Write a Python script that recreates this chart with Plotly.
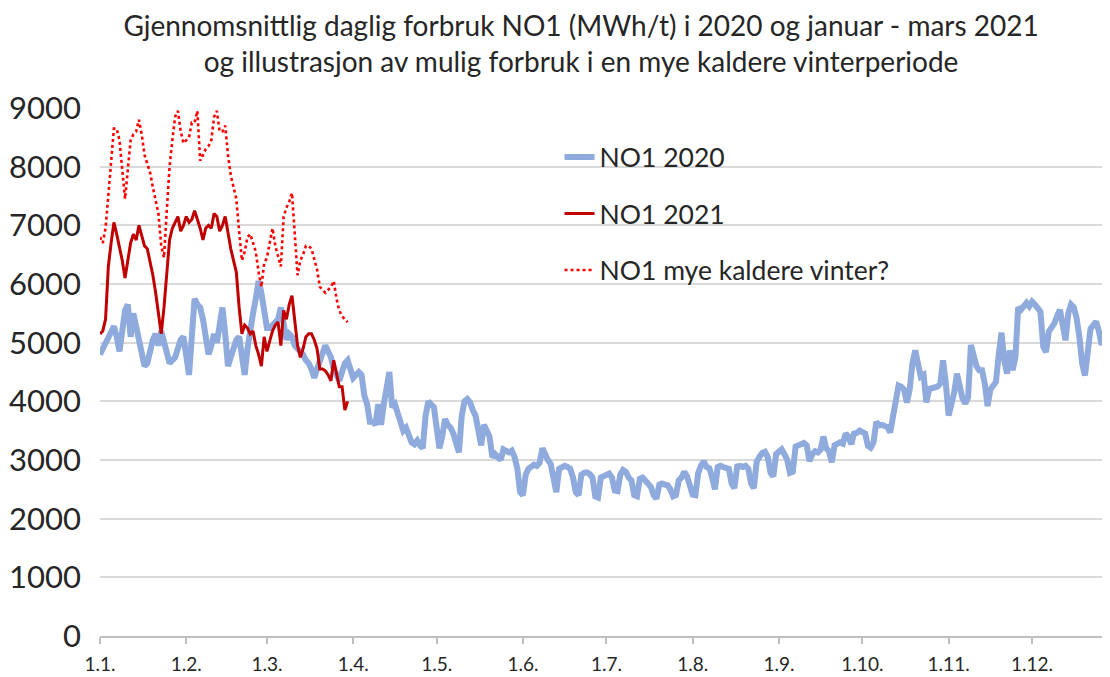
import plotly.graph_objects as go
import pandas as pd

# Daily average consumption NO1 2020 (MWh/h)
no1_2020 = [
    4800, 4900, 4950, 5050, 5150, 5280, 5100, 4850, 5200, 5550,
    5650, 5100, 5500, 5300, 5050, 4850, 4600, 4650, 4900, 5050,
    5150, 4950, 5200, 5000, 4800, 4650, 4700, 4750, 4900, 5050,
    5100, 4750, 4450, 5100, 5750, 5650, 5600, 5400, 5050, 4800,
    4950, 5150, 5000, 5300, 5600, 5150, 4600, 4750, 4950, 5050,
    5100, 4700, 4450, 4900, 5300, 5500, 5750, 6050, 5850, 5500,
    5250, 5250, 5300, 5350, 5400, 5600, 5350, 5050, 5150, 5100,
    4950, 4900, 4850, 4800, 4700, 4650, 4550, 4400, 4550, 4700,
    4850, 4950, 4850, 4750, 4550, 4450, 4350, 4500, 4650, 4700,
    4550, 4400, 4450, 4500, 4450, 4100, 3950, 3650, 3650, 3600,
    3950, 3600, 3950, 4200, 4500, 3900, 3950, 3800, 3600, 3500,
    3550, 3400, 3300, 3270, 3330, 3250, 3200, 3750, 4000, 3950,
    3900, 3550, 3200, 3400, 3700, 3600, 3550, 3450, 3300, 3130,
    3750, 4000, 4040, 3980, 3850, 3750, 3500, 3250, 3600, 3500,
    3400, 3050, 3100, 3050, 3000, 3180, 3150, 3130, 3160, 3050,
    2850, 2450, 2400, 2750, 2850, 2900, 2920, 2900, 2950, 3200,
    3080, 3000, 2930, 2700, 2450, 2850, 2880, 2900, 2880, 2850,
    2700, 2450, 2400, 2750, 2780, 2790, 2760, 2700, 2380, 2360,
    2700, 2730, 2760, 2770, 2700, 2480, 2470, 2750, 2830, 2800,
    2700, 2650, 2400, 2380, 2680, 2700, 2650, 2600, 2540, 2400,
    2340, 2580, 2600, 2580, 2570, 2500, 2380, 2400, 2650, 2700,
    2800, 2720, 2570, 2410, 2400, 2780, 2900, 2980, 2880, 2860,
    2700, 2500, 2880, 2900, 2880, 2870, 2850, 2600, 2520, 2890,
    2900, 2880, 2900, 2850, 2600, 2520, 2970, 3050, 3120, 3140,
    3050, 2780, 2720, 3100, 3140, 3180, 3100, 3000, 2780, 2800,
    3230, 3260, 3280, 3290, 3250, 2980, 3100, 3150, 3130, 3180,
    3400, 3200, 3150, 2960, 3250, 3290, 3300, 3280, 3450, 3400,
    3270, 3450, 3460, 3500, 3480, 3450, 3240, 3210, 3300, 3650,
    3590, 3600, 3580, 3560, 3470, 3700, 3950, 4270, 4250, 4200,
    3980, 4200, 4650, 4870, 4640, 4420, 4450, 3980, 4210, 4230,
    4240, 4250, 4300, 4700, 4300, 3760, 3950, 4150, 4470, 4240,
    4050, 3960, 4070, 4960, 4790, 4600, 4530, 4530, 4300, 3920,
    4200, 4270, 4330, 4790, 5170, 4700, 4470, 4870, 4530, 4750,
    5600, 5560, 5620, 5680, 5620, 5700, 5650, 5600, 5530, 4930,
    4840, 5190, 5250, 5330, 5450, 5560, 5300, 5040, 5500, 5650,
    5600, 5420, 5100, 4640, 4440, 4870, 5240, 5300, 5360, 5200,
    4960, 5150, 5390, 5300, 5000, 5350,
]

# NO1 January - March 2021
no1_2021 = [
    5150, 5200, 5400, 6300, 6700, 7050, 6850, 6650, 6400, 6100,
    6400, 6700, 6850, 6750, 7000, 6800, 6650, 6600, 6400, 6150,
    5850, 5500, 5150, 5600, 6200, 6750, 6950, 7050, 7150, 6900,
    7000, 7150, 7050, 7100, 7250, 7100, 6950, 6750, 6950, 7000,
    6950, 7200, 7150, 6900, 7000, 7150, 6850, 6600, 6400, 6200,
    5600, 5150, 5300, 5250, 5150, 5200, 4950, 4800, 4600, 5100,
    4850, 5050, 5200, 5300, 5350, 4950, 5550, 5400, 5650, 5800,
    5400, 4950, 4750, 4900, 5100, 5150, 5150, 5050, 4900, 4550,
    4550, 4520, 4450, 4350, 4700, 4450, 4250, 4250, 3850, 4000,
]

# Illustration: possible consumption in a much colder winter
no1_colder = [
    6800, 6700, 6950, 7500, 8050, 8650, 8650, 8450, 7950, 7450,
    7950, 8450, 8550, 8600, 8800, 8550, 8200, 8050, 7900, 7650,
    7400, 7200, 6650, 6450, 7250, 8000, 8450, 8850, 8950, 8600,
    8400, 8450, 8500, 8750, 8750, 8950, 8100, 8200, 8300, 8350,
    8450, 8850, 8950, 8600, 8600, 8700, 8200, 7850, 7650, 7450,
    6900, 6400, 6550, 6800, 6850, 6700, 6550, 6200, 5950, 6350,
    6450, 6700, 6950, 6650, 6450, 6300, 7150, 7300, 7400, 7550,
    6850, 6150, 6400, 6500, 6650, 6650, 6600, 6400, 6250, 5950,
    5900, 5850, 5900, 5950, 6050, 5750, 5550, 5450, 5400, 5350,
]

month_ticks = ["2020-01-01", "2020-02-01", "2020-03-01", "2020-04-01",
               "2020-05-01", "2020-06-01", "2020-07-01", "2020-08-01",
               "2020-09-01", "2020-10-01", "2020-11-01", "2020-12-01"]
month_labels = ["1.1.", "1.2.", "1.3.", "1.4.", "1.5.", "1.6.",
                "1.7.", "1.8.", "1.9.", "1.10.", "1.11.", "1.12."]

dates = pd.date_range("2020-01-01", periods=len(no1_2020), freq="D")

FONT = "Lato"
TXT = "#262626"

fig = go.Figure()
fig.add_trace(go.Scatter(
    x=dates, y=no1_2020, mode="lines", name="NO1 2020",
    line=dict(color="#8FAADC", width=6), legendgroup="a",
))
fig.add_trace(go.Scatter(
    x=dates[:len(no1_2021)], y=no1_2021, mode="lines", name="NO1 2021",
    line=dict(color="#C00000", width=3), legendgroup="b",
))
fig.add_trace(go.Scatter(
    x=dates[:len(no1_colder)], y=no1_colder, mode="lines",
    name="NO1 mye kaldere vinter?",
    line=dict(color="#FF0000", width=2.6, dash="dot"), legendgroup="c",
))

fig.update_layout(
    width=1102, height=669,
    margin=dict(l=92, r=0, t=100, b=41),
    paper_bgcolor="white", plot_bgcolor="white",
    font=dict(family=FONT, color=TXT),
    title=dict(
        text="Gjennomsnittlig daglig forbruk NO1 (MWh/t) i 2020 og januar - mars 2021"
             "<br>og illustrasjon av mulig forbruk i en mye kaldere vinterperiode",
        x=0.520, xref="container", xanchor="center",
        y=0.958, yref="container", yanchor="top",
        font=dict(family=FONT, size=28, color=TXT),
    ),
    xaxis=dict(
        type="date",
        range=["2020-01-01", "2020-12-29"],
        tickmode="array", tickvals=month_ticks, ticktext=month_labels,
        ticks="outside", ticklen=6, tickcolor="#BFBFBF", tickwidth=1.5,
        showline=True, linecolor="#BFBFBF", linewidth=1.5,
        showgrid=False, zeroline=False,
        tickfont=dict(family=FONT, size=19, color=TXT),
        ticklabelstandoff=4,
    ),
    yaxis=dict(
        range=[0, 9000], tickmode="linear", tick0=0, dtick=1000,
        showgrid=True, gridcolor="#D9D9D9", gridwidth=1.5,
        zeroline=False, showline=False,
        tickfont=dict(family=FONT, size=31, color=TXT),
        ticklabelstandoff=18,
    ),
    legend=dict(
        x=0.455, y=0.952, xanchor="left", yanchor="top",
        bgcolor="rgba(0,0,0,0)",
        font=dict(family=FONT, size=26.5, color=TXT),
        tracegroupgap=19,
    ),
    showlegend=True,
)

fig.write_html("out.html")
